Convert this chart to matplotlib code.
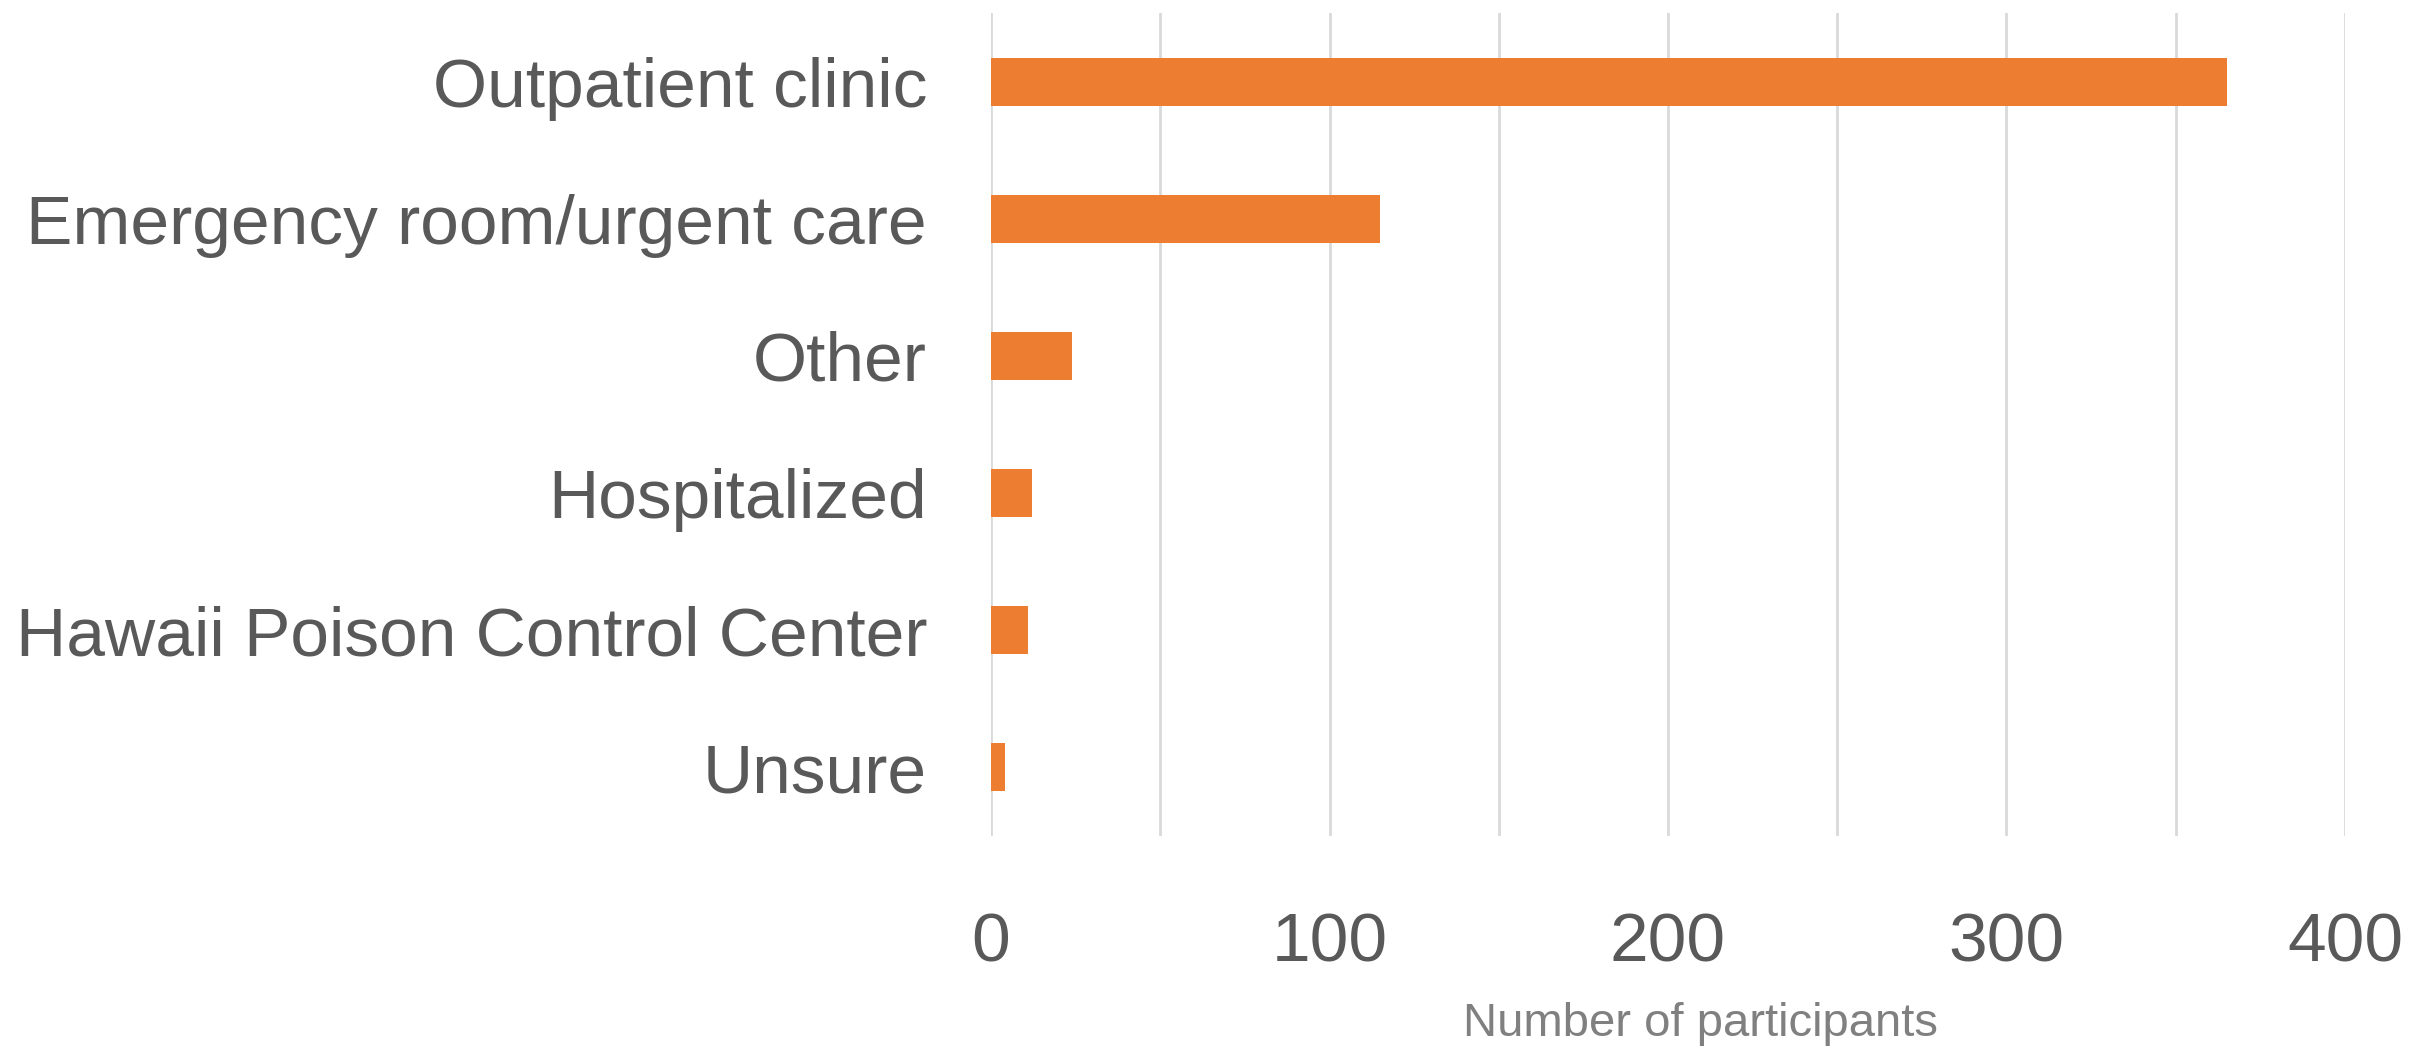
import numpy as np
import matplotlib
matplotlib.use("Agg")
import matplotlib.pyplot as plt
from matplotlib.ticker import MultipleLocator

plt.rcParams['font.family'] = ['Liberation Sans', 'DejaVu Sans']

# data
categories = ["Outpatient clinic", "Emergency room/urgent care", "Other",
              "Hospitalized", "Hawaii Poison Control Center", "Unsure"]
counts = [365, 115, 24, 12, 11, 4]
x_ticks = [0, 100, 200, 300, 400]

W, H = 2432, 1060
fig = plt.figure(figsize=(W / 100, H / 100), dpi=100)
left, right, top, bottom = 991, 2345, 13, 836
ax = fig.add_axes([left / W, 1 - bottom / H, (right - left) / W, (bottom - top) / H])

y = np.arange(len(categories))
ax.barh(y, counts, height=0.35, color="#ED7D31", zorder=3)

ax.set_xlim(0, 400)
ax.set_ylim(len(categories) - 0.5, -0.5)
ax.set_yticks(y)
ax.set_yticklabels(categories)
ax.set_xticks(x_ticks)
ax.xaxis.set_minor_locator(MultipleLocator(50))

ax.grid(axis="x", which="both", color="#D9D9D9", linewidth=2, zorder=0)
ax.set_axisbelow(True)
for s in ax.spines.values():
    s.set_visible(False)

ax.tick_params(axis="both", which="both", length=0, labelsize=50, labelcolor="#595959")
ax.tick_params(axis="y", pad=46)
ax.tick_params(axis="x", pad=54)

ax.set_xlabel("Number of participants", fontsize=34, color="#808080", va="center")
ax.xaxis.set_label_coords(0.524, -0.228)

fig.savefig("out.png", dpi=100)
